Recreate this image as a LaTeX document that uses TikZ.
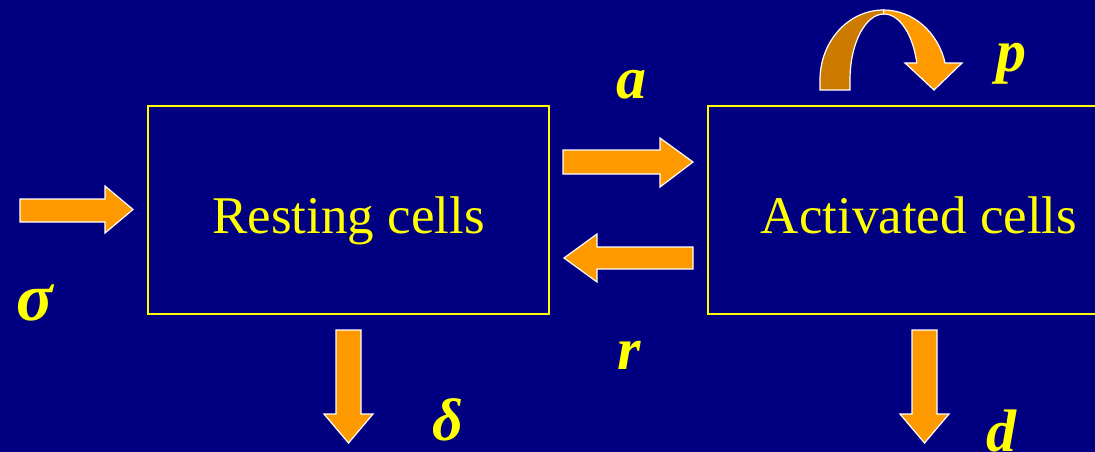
\documentclass[tikz,border=0pt]{standalone}
\usepackage{fontspec}
\setmainfont{Liberation Serif}
\usetikzlibrary{positioning}

\definecolor{navy}{RGB}{0,0,128}
\definecolor{flow}{RGB}{255,153,0}
\definecolor{flowdark}{RGB}{204,122,0}
\definecolor{lemon}{RGB}{255,255,0}

\begin{document}
\begin{tikzpicture}[x=1pt, y=-1pt,
		cellbox/.style={rectangle, draw=lemon, line width=1.5pt, text=lemon, inner sep=0pt,
			minimum height=208pt, text height=46pt, text depth=0pt, font=\fontsize{53}{53}\selectfont},
		rate/.style={text=lemon, inner sep=0pt, anchor=base, font=\fontsize{60}{60}\selectfont\bfseries\itshape},
		blockarrow/.style={fill=flow, draw=white, line width=1.2pt, line join=miter}
		]
		\clip (0,0) rectangle (1095,452);
		\fill [navy] (0,0) rectangle (1095,452);
		\node [cellbox, minimum width=401pt] (resting) at (348.5,210) {Resting cells};
		\node [cellbox, minimum width=422pt] (activated) at (919,210) {Activated cells};
		% inflow, exchange and loss arrows
		\filldraw [blockarrow] (20,199) -- (105,199) -- (105,186) -- (133,209.5) -- (105,233) -- (105,222) -- (20,222) -- cycle;
		\filldraw [blockarrow] (563,150) -- (660,150) -- (660,138) -- (693,162) -- (660,187) -- (660,174) -- (563,174) -- cycle;
		\filldraw [blockarrow] (693,247) -- (597,247) -- (597,234) -- (564,258) -- (597,282) -- (597,269) -- (693,269) -- cycle;
		\filldraw [blockarrow] (336,330) -- (336,414) -- (324,414) -- (348.5,443) -- (373,414) -- (361,414) -- (361,330) -- cycle;
		\filldraw [blockarrow] (912,330) -- (912,414) -- (900,414) -- (924.5,443) -- (949,414) -- (937,414) -- (937,330) -- cycle;
		% proliferation loop
		\filldraw [blockarrow, fill=flowdark] (820,90) -- (820,80) arc [start angle=180, end angle=270, x radius=63.5, y radius=70]
			-- (884,14) arc [start angle=270, end angle=180, x radius=34, y radius=66] -- (850,90) -- cycle;
		\filldraw [blockarrow] (883.5,10) arc [start angle=270, end angle=346, x radius=63.5, y radius=70]
			-- (962,63) -- (934,90) -- (905,63) -- (916.8,62.9) arc [start angle=345, end angle=270, x radius=34, y radius=66] -- cycle;
		\node [rate, font=\fontsize{68}{68}\selectfont\bfseries\itshape] (sigma) at (35,320) {σ};
		\node [rate] (rateA) at (631,99) {a};
		\node [rate] (rateR) at (629,369) {r};
		\node [rate] (delta) at (448,440) {δ};
		\node [rate] (rateP) at (1011,72) {p};
		\node [rate] (rateD) at (1001,451) {d};
	\end{tikzpicture}
\end{document}
